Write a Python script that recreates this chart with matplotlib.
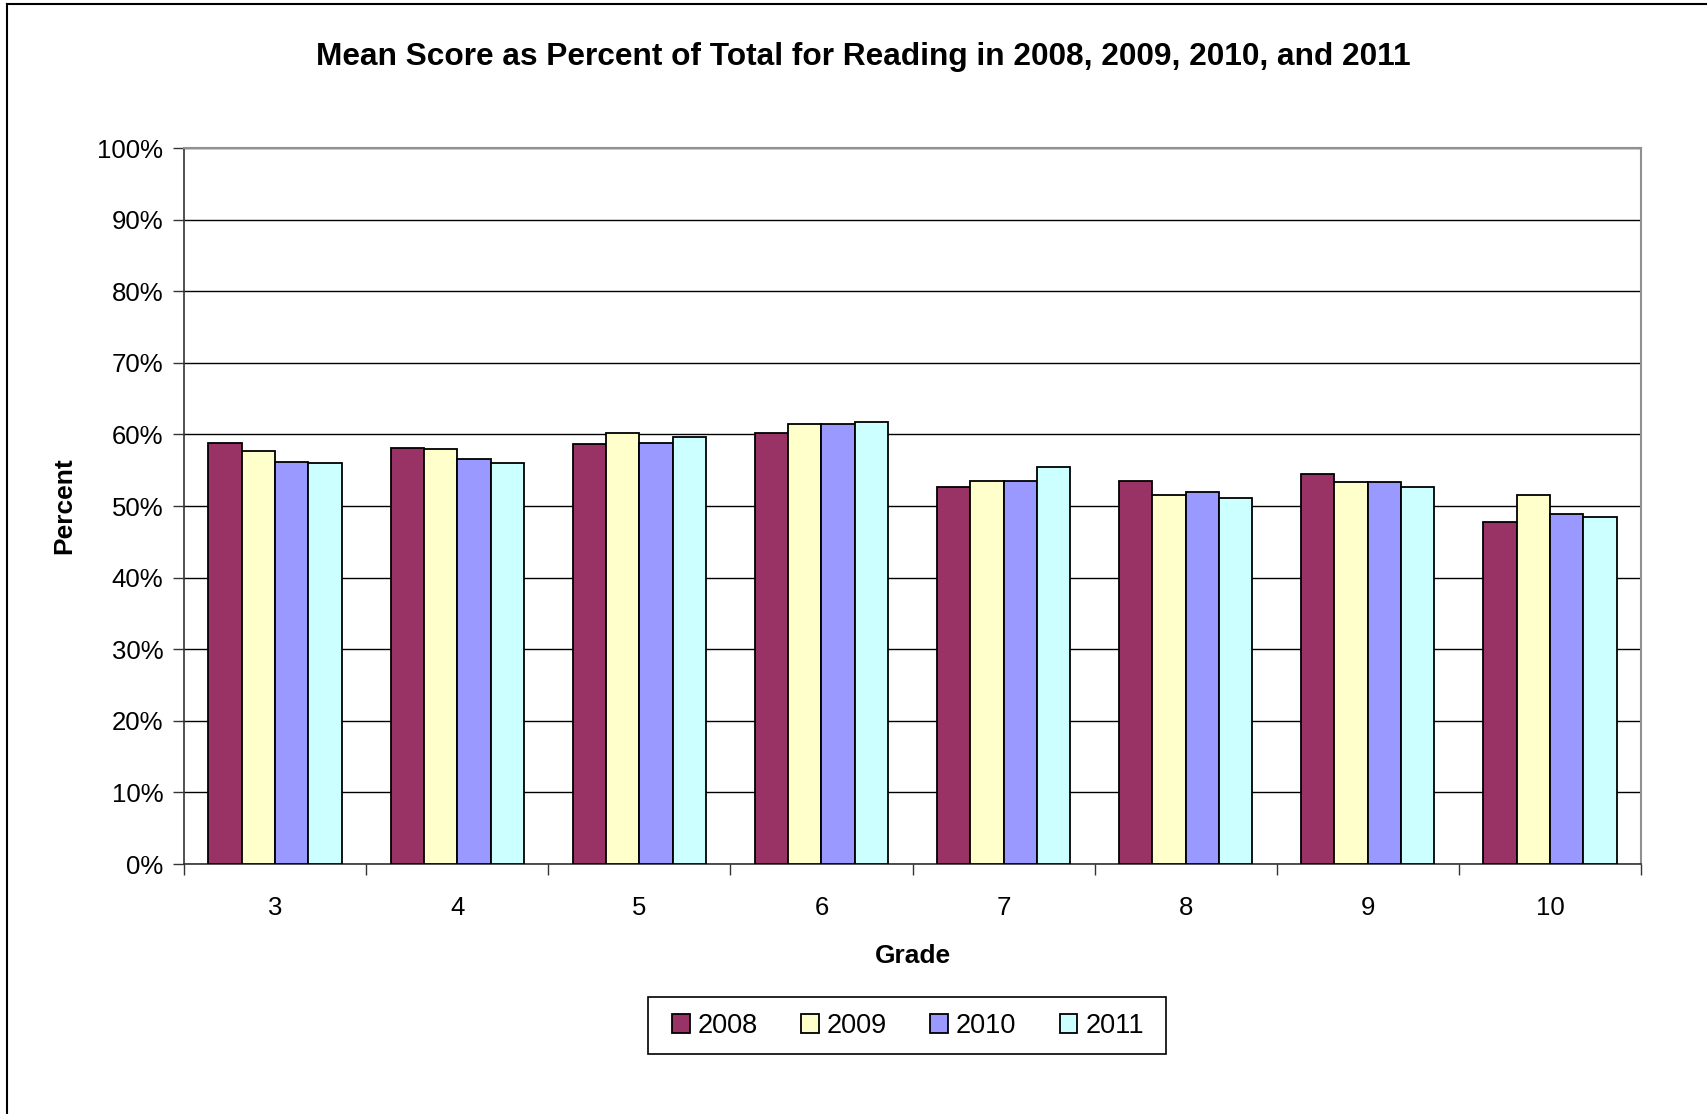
import matplotlib
matplotlib.use("Agg")
import matplotlib.pyplot as plt
import matplotlib.patches as mpatches
import numpy as np
from matplotlib.ticker import FuncFormatter

plt.rcParams['font.family'] = ['Liberation Sans', 'DejaVu Sans']

grades = ["3", "4", "5", "6", "7", "8", "9", "10"]
years = ["2008", "2009", "2010", "2011"]
v2008 = [58.8, 58.1, 58.6, 60.2, 52.6, 53.5, 54.4, 47.8]
v2009 = [57.7, 57.9, 60.2, 61.5, 53.5, 51.5, 53.3, 51.5]
v2010 = [56.2, 56.6, 58.8, 61.5, 53.5, 52.0, 53.3, 48.9]
v2011 = [56.0, 56.0, 59.7, 61.7, 55.5, 51.1, 52.6, 48.4]
series = [v2008, v2009, v2010, v2011]
colors = ["#993366", "#FFFFCC", "#9999FF", "#CCFFFF"]

W, H = 1707, 1114
fig = plt.figure(figsize=(W / 100, H / 100), dpi=100)

# outer chart border (left and top visible)
fig.add_artist(plt.Line2D([7 / W, 7 / W], [0, 1 - 4 / H], color="black", lw=1.5))
fig.add_artist(plt.Line2D([7 / W, 1], [1 - 4 / H, 1 - 4 / H], color="black", lw=1.5))

left, right = 184 / W, 1641 / W
bottom, top = 1 - 864 / H, 1 - 148 / H
ax = fig.add_axes([left, bottom, right - left, top - bottom])

x = np.arange(len(grades))
bw = 0.183
for i, (vals, c, yr) in enumerate(zip(series, colors, years)):
    ax.bar(x + (i - 1.5) * bw, vals, width=bw, color=c, edgecolor="black",
           linewidth=1.3, label=yr, zorder=3)

ax.set_xlim(-0.5, len(grades) - 0.5)
ax.set_ylim(0, 100)
ax.set_yticks(np.arange(0, 101, 10))
ax.yaxis.set_major_formatter(FuncFormatter(lambda v, p: f"{int(v)}%"))
ax.yaxis.grid(True, color="black", linewidth=1.0, zorder=0)
ax.set_axisbelow(True)

ax.set_xticks(x)
ax.set_xticklabels(grades)
ax.set_xticks(np.arange(-0.5, len(grades), 1), minor=True)
ax.tick_params(axis="x", which="major", length=0, pad=23, labelsize=18.5)
ax.tick_params(axis="x", which="minor", length=8, width=1, color="#333333", direction="out")
ax.tick_params(axis="y", length=8, width=1, color="#333333", direction="out", pad=7,
               labelsize=18.5)

for s in ["left", "bottom"]:
    ax.spines[s].set_color("#333333")
    ax.spines[s].set_linewidth(1.2)
for s in ["top", "right"]:
    ax.spines[s].set_color("#909090")
    ax.spines[s].set_linewidth(1.5)

ax.set_xlabel("Grade", fontsize=19, fontweight="bold", labelpad=17)
ax.set_ylabel("Percent", fontsize=19, fontweight="bold", labelpad=15)

fig.text(0.5055, 1 - 57 / H, "Mean Score as Percent of Total for Reading in 2008, 2009, 2010, and 2011",
         ha="center", va="center", fontsize=22.8, fontweight="bold")

# legend box frame
fig.add_artist(mpatches.Rectangle((648 / W, 1 - 1054 / H), (1166 - 648) / W, (1054 - 997) / H,
                                  transform=fig.transFigure, facecolor="white",
                                  edgecolor="black", linewidth=1.2, zorder=1))
leg = fig.legend(loc="center", bbox_to_anchor=(908 / W, 1 - 1026 / H), ncol=4,
                 fontsize=19.5, frameon=False,
                 handlelength=0.65, handleheight=0.65, handletextpad=0.3,
                 columnspacing=1.6, borderpad=0.55, borderaxespad=0)
leg.set_zorder(2)

fig.savefig("out.png", dpi=100, facecolor="white")
